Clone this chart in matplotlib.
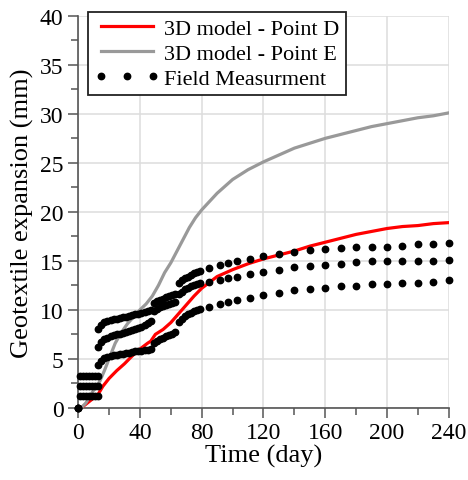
import matplotlib
matplotlib.use('Agg')
import matplotlib.pyplot as plt
from matplotlib.ticker import MultipleLocator

plt.rcParams['font.family'] = 'Liberation Serif'

# 3D model predictions
day_d = [2, 6, 10, 13, 16, 20, 25, 30, 35, 40, 45, 47, 50, 55, 60, 65, 70, 75, 80, 90, 100,
         110, 120, 130, 140, 150, 160, 170, 180, 190, 200, 210, 220, 230, 240]
exp_d = [0, 0.5, 1.0, 1.4, 2.2, 3.0, 3.8, 4.5, 5.3, 6.0, 6.6, 6.8, 7.5, 8.0, 8.7, 9.6, 10.5,
         11.4, 12.2, 13.4, 14.1, 14.7, 15.2, 15.6, 16.0, 16.5, 16.9, 17.3, 17.7, 18.0, 18.3,
         18.5, 18.6, 18.8, 18.9]

day_e = [2, 5, 10, 14, 17, 20, 24, 28, 32, 36, 40, 44, 48, 52, 56, 60, 64, 68, 72, 76, 80,
         90, 100, 110, 120, 130, 140, 150, 160, 170, 180, 190, 200, 210, 220, 230, 240]
exp_e = [0, 0.5, 1.8, 2.7, 3.8, 5.0, 6.6, 7.7, 8.6, 9.3, 10.0, 10.6, 11.4, 12.5, 13.8, 14.8,
         16.0, 17.2, 18.4, 19.4, 20.2, 21.9, 23.3, 24.3, 25.1, 25.8, 26.5, 27.0, 27.5, 27.9,
         28.3, 28.7, 29.0, 29.3, 29.6, 29.8, 30.1]

# field readings, three gauges (daily at first, then every 5-10 days)
field_days = [0, 1, 3, 5, 7, 9, 11, 13,
              13, 15, 17, 19, 21, 23, 25, 27, 29, 31, 33, 35, 37, 39, 41, 43, 45, 47,
              49, 51, 53, 55, 57, 59, 61, 63,
              65, 67, 69, 71, 73, 75, 77, 79,
              85, 92, 97, 103, 111, 120, 130, 140, 150, 160, 170, 180, 190, 200, 210,
              220, 230, 240]
field_top = [0, 3.3, 3.3, 3.3, 3.3, 3.3, 3.3, 3.3,
             8.0, 8.5, 8.8, 8.9, 9.0, 9.05, 9.1, 9.2, 9.25, 9.3, 9.4, 9.45, 9.55, 9.6, 9.7,
             9.8, 9.9, 10.0,
             10.7, 10.9, 11.0, 11.15, 11.3, 11.4, 11.5, 11.6,
             12.7, 13.0, 13.2, 13.4, 13.6, 13.75, 13.85, 14.0,
             14.3, 14.6, 14.8, 14.95, 15.15, 15.5, 15.7, 15.9, 16.1, 16.2, 16.3, 16.4, 16.4,
             16.45, 16.5, 16.7, 16.7, 16.8]
field_mid = [0, 2.2, 2.2, 2.2, 2.2, 2.2, 2.2, 2.2,
             6.2, 6.7, 7.0, 7.15, 7.3, 7.4, 7.5, 7.55, 7.65, 7.7, 7.8, 7.9, 8.0, 8.15, 8.3,
             8.5, 8.7, 8.9,
             9.9, 10.1, 10.3, 10.4, 10.5, 10.6, 10.7, 10.8,
             11.6, 11.85, 12.1, 12.25, 12.4, 12.5, 12.6, 12.7,
             12.85, 13.05, 13.2, 13.4, 13.7, 13.9, 14.1, 14.35, 14.5, 14.6, 14.7, 14.9, 15.0,
             15.0, 15.0, 15.0, 15.0, 15.1]
field_low = [0, 1.2, 1.2, 1.2, 1.2, 1.2, 1.2, 1.2,
             4.4, 4.8, 5.05, 5.2, 5.3, 5.35, 5.4, 5.45, 5.5, 5.55, 5.6, 5.7, 5.75, 5.8, 5.85,
             5.9, 5.95, 6.0,
             6.6, 6.8, 7.0, 7.15, 7.3, 7.45, 7.55, 7.7,
             8.8, 9.1, 9.35, 9.55, 9.7, 9.85, 10.0, 10.1,
             10.3, 10.6, 10.8, 11.05, 11.2, 11.5, 11.7, 12.0, 12.1, 12.2, 12.4, 12.4, 12.65,
             12.65, 12.7, 12.75, 12.8, 13.0]

fig = plt.figure(figsize=(4.68, 4.81), dpi=100)
ax = fig.add_axes([0.167, 0.150, 0.792, 0.815])

ax.plot(day_d, exp_d, color='#ff0000', lw=2.3, label='3D model - Point D', zorder=3)
ax.plot(day_e, exp_e, color='#999999', lw=2.3, label='3D model - Point E', zorder=3)
for i, vals in enumerate([field_top, field_mid, field_low]):
    ax.plot(field_days, vals, ls='none', marker='o', ms=4.6, color='black', clip_on=False,
            label='Field Measurment' if i == 0 else None, zorder=4)

ax.set_xlim(0, 240)
ax.set_ylim(0, 40)
ax.xaxis.set_major_locator(MultipleLocator(40))
ax.xaxis.set_minor_locator(MultipleLocator(20))
ax.yaxis.set_major_locator(MultipleLocator(5))
ax.yaxis.set_minor_locator(MultipleLocator(2.5))
ax.grid(True, which='major', color='#dddddd', lw=1.1)
ax.set_axisbelow(True)

for side in ['top', 'right']:
    ax.spines[side].set_visible(False)
for side in ['left', 'bottom']:
    ax.spines[side].set_color('#555555')
    ax.spines[side].set_linewidth(1.2)
ax.tick_params(which='major', direction='out', length=7.5, width=1.1, color='#555555',
               labelsize=17, pad=3)
ax.tick_params(which='minor', direction='out', length=5, width=1.1, color='#555555')

ax.set_xlabel('Time (day)', fontsize=19, labelpad=0)
ax.set_ylabel('Geotextile expansion (mm)', fontsize=19, labelpad=4)

leg = ax.legend(loc='upper left', bbox_to_anchor=(0.027, 1.011), fontsize=16, numpoints=3,
                handlelength=2.9, handletextpad=0.2, borderpad=0.3, labelspacing=0.2,
                fancybox=False, shadow=False, framealpha=1, borderaxespad=0)
leg.get_frame().set_edgecolor('#222222')
leg.get_frame().set_linewidth(1.3)

fig.savefig('out.png', dpi=100)
